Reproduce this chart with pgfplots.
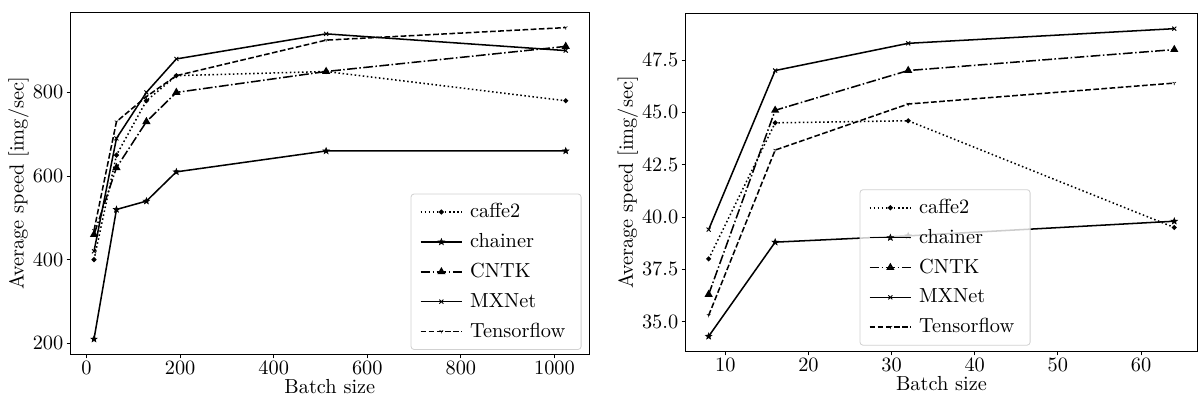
\documentclass[border=0pt]{standalone}
\usepackage{pgfplots}
\pgfplotsset{compat=1.18}
\usetikzlibrary{plotmarks}

% filled five-point star, like matplotlib's '*'
\pgfdeclareplotmark{fstar}{%
  \pgfpathmoveto{\pgfpointpolar{90}{\pgfplotmarksize}}%
  \pgfpathlineto{\pgfpointpolar{126}{0.42\pgfplotmarksize}}%
  \pgfpathlineto{\pgfpointpolar{162}{\pgfplotmarksize}}%
  \pgfpathlineto{\pgfpointpolar{198}{0.42\pgfplotmarksize}}%
  \pgfpathlineto{\pgfpointpolar{234}{\pgfplotmarksize}}%
  \pgfpathlineto{\pgfpointpolar{270}{0.42\pgfplotmarksize}}%
  \pgfpathlineto{\pgfpointpolar{306}{\pgfplotmarksize}}%
  \pgfpathlineto{\pgfpointpolar{342}{0.42\pgfplotmarksize}}%
  \pgfpathlineto{\pgfpointpolar{18}{\pgfplotmarksize}}%
  \pgfpathlineto{\pgfpointpolar{54}{0.42\pgfplotmarksize}}%
  \pgfpathclose\pgfusepathqfillstroke}

\pgfplotsset{
  speedplot/.style={
    scale only axis,
    axis line style={line width=0.45pt},
    tick align=outside,
    xtick pos=bottom, ytick pos=left,
    major tick length=1.8pt,
    every tick/.style={black, line width=0.45pt},
    xlabel={Batch size},
    ylabel={Average speed [img/sec]},
    xlabel style={yshift=3pt},
    ylabel style={yshift=-3pt},
    tick label style={inner sep=1.5pt},
    /pgf/number format/1000 sep={},
    legend cell align=left,
    legend style={draw=black!18, rounded corners=1.5pt, fill=white,
      fill opacity=0.8, text opacity=1, row sep=2.2pt,
      inner xsep=4.3pt, inner ysep=2.6pt,
      nodes={inner xsep=3.5pt}},
    legend image code/.code={%
      \draw[mark repeat=2,mark phase=2] plot coordinates {(0cm,0cm) (0.36cm,0cm) (0.72cm,0cm)};},
  },
  sCaffe/.style={black, line width=0.75pt, dash pattern=on 0.75pt off 1.25pt, mark=*, mark size=0.8pt, mark options={solid}},
  sChainer/.style={black, line width=0.75pt, mark=fstar, mark size=1.6pt, mark options={solid, line width=0.3pt}},
  sCNTK/.style={black, line width=0.75pt, dash pattern=on 4.8pt off 1.2pt on 0.75pt off 1.2pt, mark=triangle*, mark size=1.6pt, mark options={solid}},
  sMX/.style={black, line width=0.75pt, mark=x, mark size=1.4pt, mark options={solid, line width=0.45pt}},
  sTF/.style={black, line width=0.75pt, dash pattern=on 2.8pt off 1.2pt, mark=Mercedes star flipped, mark size=1.0pt, mark options={solid, line width=0.3pt}},
}

\begin{document}
\begin{tikzpicture}
\begin{axis}[speedplot,
  width=255pt, height=168.4pt,
  xmin=-34.4, xmax=1074.4, ymin=172.75, ymax=992.25,
  xtick={0,200,400,600,800,1000},
  ytick={200,400,600,800},
  legend style={at={(0.985,0.014)}, anchor=south east},
]
\addplot[sCaffe] coordinates {(16,400) (64,650) (128,780) (192,840) (512,850) (1024,780)};
\addlegendentry{caffe2}
\addplot[sChainer] coordinates {(16,210) (64,520) (128,540) (192,610) (512,660) (1024,660)};
\addlegendentry{chainer}
\addplot[sCNTK] coordinates {(16,460) (64,620) (128,730) (192,800) (512,850) (1024,910)};
\addlegendentry{CNTK}
\addplot[sMX] coordinates {(16,420) (64,690) (128,800) (192,880) (512,940) (1024,900)};
\addlegendentry{MXNet}
\addplot[sTF] coordinates {(16,470) (64,730) (128,790) (192,840) (512,925) (1024,955)};
\addlegendentry{Tensorflow}
\end{axis}

\begin{axis}[speedplot,
  at={(302.2pt,1.47pt)},
  width=251.7pt, height=166.3pt,
  xmin=5.2, xmax=66.8, ymin=33.565, ymax=49.735,
  xtick={10,20,30,40,50,60},
  ytick={35,37.5,40,42.5,45,47.5},
  yticklabel style={/pgf/number format/.cd, fixed, fixed zerofill, precision=1},
  legend style={at={(0.507,0.018)}, anchor=south},
]
\addplot[sCaffe] coordinates {(8,38.0) (16,44.5) (32,44.6) (64,39.5)};
\addlegendentry{caffe2}
\addplot[sChainer] coordinates {(8,34.3) (16,38.8) (32,39.1) (64,39.8)};
\addlegendentry{chainer}
\addplot[sCNTK] coordinates {(8,36.3) (16,45.1) (32,47.0) (64,48.0)};
\addlegendentry{CNTK}
\addplot[sMX] coordinates {(8,39.4) (16,47.0) (32,48.3) (64,49.0)};
\addlegendentry{MXNet}
\addplot[sTF] coordinates {(8,35.3) (16,43.2) (32,45.4) (64,46.4)};
\addlegendentry{Tensorflow}
\end{axis}

\path (-34.6pt,-24.2pt) rectangle (552.4pt,174.3pt);
\end{tikzpicture}
\end{document}
